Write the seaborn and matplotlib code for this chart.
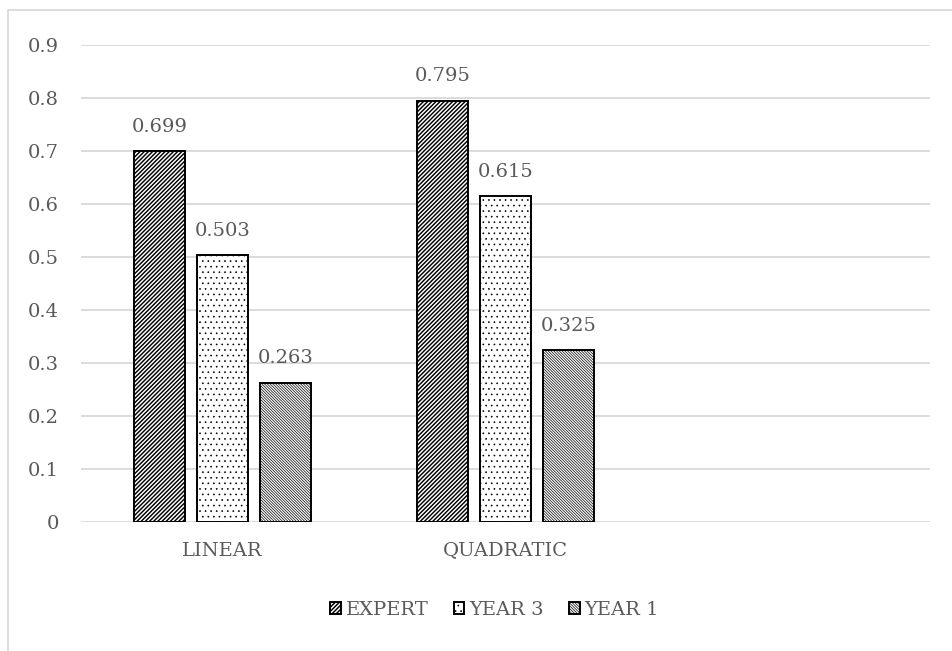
import matplotlib
matplotlib.use("Agg")
import matplotlib.pyplot as plt
from matplotlib.lines import Line2D
import pandas as pd
import seaborn as sns

# Accuracy by model type and group
methods = ["LINEAR", "QUADRATIC"]
groups = ["EXPERT", "YEAR 3", "YEAR 1"]
expert = [0.699, 0.795]
year3 = [0.503, 0.615]
year1 = [0.263, 0.325]
category_order = ["LINEAR", "QUADRATIC", " "]
y_ticks = [0, 0.1, 0.2, 0.3, 0.4, 0.5, 0.6, 0.7, 0.8, 0.9]

rows = []
for g, vals in zip(groups, [expert, year3, year1]):
    for m, v in zip(methods, vals):
        rows.append({"method": m, "group": g, "value": v})
df = pd.DataFrame(rows)

sns.set_theme(style="white")
plt.rcParams["font.family"] = ["DejaVu Serif"]

text_color = "#595959"
grid_color = "#d9d9d9"

fig = plt.figure(figsize=(9.53, 6.51), dpi=100)
ax = fig.add_axes([0.085, 0.198, 0.891, 0.733])

sns.barplot(data=df, x="method", y="value", hue="group", order=category_order,
            hue_order=groups, width=0.668, gap=0.19, dodge=True,
            color="white", edgecolor="black", linewidth=1.4,
            legend=False, ax=ax, errorbar=None)

# pattern, hatch line width, hatch colour per group
styles = [("////////", 1.05, "black"),
          ("...", 0.45, "#202020"),
          ("\\\\\\\\\\\\\\\\\\\\\\\\", 0.5, "#555555")]


def style_bar(bar, hatch, hlw, hcol):
    bar.set_facecolor("white")
    bar.set_edgecolor("black")
    bar.set_hatch(hatch)
    if hasattr(bar, "set_hatch_linewidth"):
        bar.set_hatch_linewidth(hlw)
    else:
        bar._hatch_linewidth = hlw
    if hasattr(bar, "set_hatchcolor"):
        bar.set_hatchcolor(hcol)


for cont, (h, hlw, hcol) in zip(ax.containers, styles):
    for bar in cont:
        style_bar(bar, h, hlw, hcol)
    ax.bar_label(cont, fmt="%.3f", padding=11, fontsize=14, color=text_color)

ax.set_ylim(0, 0.9)
ax.set_yticks(y_ticks)
ax.set_yticklabels([f"{t:g}" for t in y_ticks])
ax.set_xlim(-0.5, 2.5)
ax.yaxis.grid(True, color=grid_color, linewidth=1.3)
ax.set_axisbelow(True)
for s in ax.spines.values():
    s.set_visible(False)
ax.tick_params(axis="both", length=0, labelsize=14, labelcolor=text_color)
ax.tick_params(axis="x", pad=14)
ax.tick_params(axis="y", pad=16)
ax.set_xlabel("")
ax.set_ylabel("")

handles = [cont[0] for cont in ax.containers]
leg = fig.legend(handles, groups, loc="center", bbox_to_anchor=(0.519, 0.063),
                 ncol=3, frameon=False, fontsize=14, labelcolor=text_color,
                 handlelength=0.55, handleheight=0.55, handletextpad=0.25,
                 columnspacing=1.3)
for lh, (h, hlw, hcol) in zip(leg.legend_handles, styles):
    style_bar(lh, h, hlw, hcol)

# light chart-area frame along the top and left edges
x0 = 8.5 / 953
y0 = 1 - 9.5 / 651
fig.add_artist(Line2D([x0, x0, 1.0], [0.0, y0, y0], transform=fig.transFigure,
                      color=grid_color, linewidth=1.3))

fig.savefig("out.png", dpi=100, facecolor="white")
